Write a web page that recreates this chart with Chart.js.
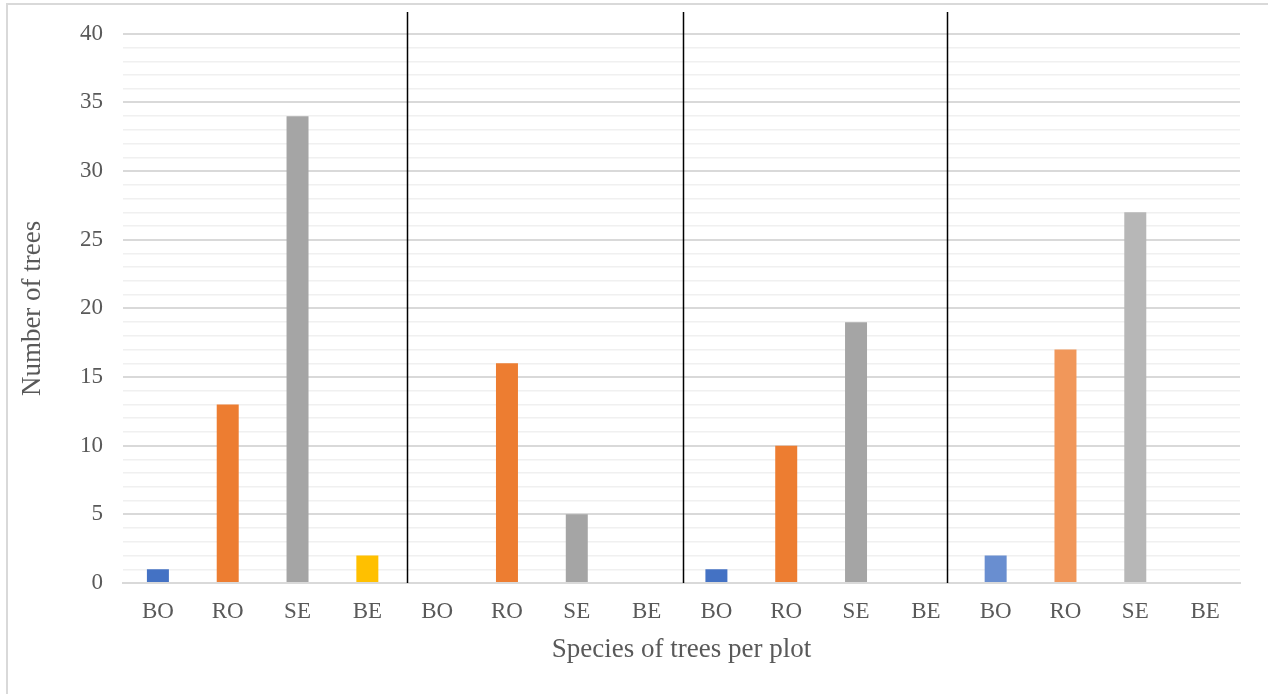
<!DOCTYPE html>
<html>
<head>
<meta charset="utf-8">
<script src="https://cdn.jsdelivr.net/npm/chart.js@4.4.1/dist/chart.umd.min.js"></script>
<style>
  html, body { margin: 0; padding: 0; background: #ffffff; }
  #wrap { position: relative; width: 1268px; height: 694px; overflow: hidden; }
  #frame {
    position: absolute; left: 6px; top: 3px; width: 1300px; height: 720px;
    border-left: 2px solid #d9d9d9; border-top: 2px solid #d9d9d9; box-sizing: border-box;
  }
  #chart { position: absolute; left: 0; top: 0; }
</style>
</head>
<body>
<div id="wrap">
  <div id="frame"></div>
  <canvas id="chart" width="1268" height="694"></canvas>
</div>
<script>
// Tree species codes, repeated once per plot
const species = ['BO', 'RO', 'SE', 'BE'];

// Number of trees of each species, one array per plot
const plot1 = [1, 13, 34, 2];
const plot2 = [0, 16, 5, 0];
const plot3 = [1, 10, 19, 0];
const plot4 = [2, 17, 27, 0];

// Y axis range and labelled ticks
const yMax = 40;
const yLabelledTicks = [0, 5, 10, 15, 20, 25, 30, 35, 40];

const plots = [plot1, plot2, plot3, plot4];
const labels = plots.flatMap(() => species);
const values = plots.flat();

const baseColors = ['#4472C4', '#ED7D31', '#A5A5A5', '#FFC000'];
const lightColors = ['#698ED0', '#F1975A', '#B7B7B7', '#FFCD33'];
const barColors = plots.flatMap((p, i) => (i === plots.length - 1 ? lightColors : baseColors));

const FONT = "'Liberation Serif', 'Times New Roman', serif";
const TEXT = '#595959';

// Vertical divider lines between the plots
const plotDividers = {
  id: 'plotDividers',
  afterDatasetsDraw(chart, args, opts) {
    const { ctx, scales: { x, y } } = chart;
    ctx.save();
    ctx.strokeStyle = '#000000';
    ctx.lineWidth = 1.5;
    opts.at.forEach(v => {
      const px = Math.round(x.getPixelForValue(v)) + 0.5;
      ctx.beginPath();
      ctx.moveTo(px, opts.top);
      ctx.lineTo(px, y.getPixelForValue(0));
      ctx.stroke();
    });
    ctx.restore();
  }
};

new Chart(document.getElementById('chart'), {
  type: 'bar',
  data: {
    labels: labels,
    datasets: [{
      data: values,
      backgroundColor: barColors,
      borderWidth: 0,
      barPercentage: 0.315,
      categoryPercentage: 1.0
    }]
  },
  options: {
    responsive: false,
    animation: false,
    devicePixelRatio: 1,
    layout: { padding: { top: 33, right: 28, bottom: 0, left: 0 } },
    plugins: {
      legend: { display: false },
      tooltip: { enabled: false },
      plotDividers: { at: [3.57, 7.52, 11.3], top: 12 }
    },
    scales: {
      x: {
        grid: { display: false, drawTicks: false },
        border: { display: true, color: '#d9d9d9', width: 2 },
        ticks: {
          color: TEXT,
          font: { family: FONT, size: 23 },
          padding: 15,
          maxRotation: 0,
          autoSkip: false
        },
        title: {
          display: true,
          text: 'Species of trees per plot',
          color: TEXT,
          font: { family: FONT, size: 27 },
          padding: { top: 0, bottom: 28 }
        },
        afterFit(scale) { scale.height = 111; }
      },
      y: {
        min: 0,
        max: yMax,
        border: { display: false },
        grid: {
          drawTicks: false,
          color: ctx => (ctx.tick && ctx.tick.value % 5 === 0 ? '#d9d9d9' : '#f0f0f0'),
          lineWidth: ctx => (ctx.tick && ctx.tick.value % 5 === 0 ? 2 : 1.5)
        },
        ticks: {
          stepSize: 1,
          autoSkip: false,
          color: TEXT,
          font: { family: FONT, size: 23 },
          padding: 20,
          callback: v => (yLabelledTicks.includes(v) ? String(v) : '')
        },
        title: {
          display: true,
          text: 'Number of trees',
          color: TEXT,
          font: { family: FONT, size: 27 },
          padding: { top: 17, bottom: 0 }
        },
        afterFit(scale) { scale.width = 123; }
      }
    }
  },
  plugins: [plotDividers]
});
</script>
</body>
</html>
